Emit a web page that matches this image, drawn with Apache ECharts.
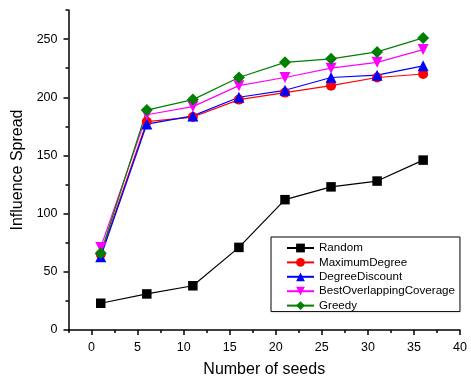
<!DOCTYPE html>
<html>
<head>
<meta charset="utf-8">
<script src="https://cdn.jsdelivr.net/npm/echarts@6/dist/echarts.min.js"></script>
<style>
  html, body { margin: 0; padding: 0; background: #fff; }
  #chart { width: 471px; height: 383px; }
</style>
</head>
<body>
<div id="chart"></div>
<script>
// Number of seeds on the x axis
const seeds = [1, 6, 11, 16, 21, 26, 31, 36];

// Influence spread per heuristic
const randomSpread = [23, 31, 38, 71, 112, 123, 128, 146];
const maxDegreeSpread = [65, 179, 183, 198, 204, 210, 217, 220];
const degreeDiscountSpread = [63, 177, 184, 200, 206, 217, 219, 227];
const bestOverlapSpread = [71, 185, 192, 210, 217, 225, 230, 241];
const greedySpread = [66, 189, 198, 217, 230, 233, 239, 251];

// Labelled tick positions
const xTicks = [0, 5, 10, 15, 20, 25, 30, 35, 40];
const yTicks = [0, 50, 100, 150, 200, 250];

const FONT = '"Liberation Sans", Arial, sans-serif';

function pairs(vals) {
  return seeds.map((s, i) => [s, vals[i]]);
}

function lineSeries(name, vals, color, symbol, size) {
  return {
    name: name,
    type: 'line',
    xAxisIndex: 0,
    yAxisIndex: 0,
    data: pairs(vals),
    symbol: symbol,
    symbolSize: size,
    color: color,
    lineStyle: { color: color, width: 1.2 },
    itemStyle: { color: color },
    emphasis: { disabled: true },
    z: 3
  };
}

const axisLine = { show: true, onZero: false, lineStyle: { color: '#000', width: 1.5 } };
const tickStyle = { color: '#000', width: 1.5 };

const option = {
  animation: false,
  backgroundColor: '#fff',
  grid: { left: 68.5, right: 11, top: 10, bottom: 50.5, containLabel: false },
  xAxis: [
    {
      type: 'value', min: -2.5, max: 40,
      axisLine: axisLine,
      splitLine: { show: false },
      axisTick: { show: true, length: 5, customValues: xTicks, lineStyle: tickStyle },
      axisLabel: { customValues: xTicks, color: '#000', fontSize: 12.5, fontFamily: FONT, margin: 11 },
      name: 'Number of seeds', nameLocation: 'middle', nameGap: 32,
      nameTextStyle: { color: '#000', fontSize: 16, fontFamily: FONT }
    },
    {
      // minor ticks every 2.5
      type: 'value', min: -2.5, max: 40, interval: 2.5, position: 'bottom',
      axisLine: { show: false, onZero: false }, splitLine: { show: false },
      axisTick: { show: true, length: 3, lineStyle: tickStyle },
      axisLabel: { show: false }
    }
  ],
  yAxis: [
    {
      type: 'value', min: 0, max: 275,
      axisLine: axisLine,
      splitLine: { show: false },
      axisTick: { show: true, length: 5, customValues: yTicks, lineStyle: tickStyle },
      axisLabel: { customValues: yTicks, color: '#000', fontSize: 12.5, fontFamily: FONT, margin: 11 },
      name: 'Influence Spread', nameLocation: 'middle', nameGap: 40, nameRotate: 90,
      nameTextStyle: { color: '#000', fontSize: 16, fontFamily: FONT }
    },
    {
      // minor ticks every 25
      type: 'value', min: 0, max: 275, interval: 25, position: 'left',
      axisLine: { show: false, onZero: false }, splitLine: { show: false },
      axisTick: { show: true, length: 3, lineStyle: tickStyle },
      axisLabel: { show: false }
    }
  ],
  legend: {
    orient: 'vertical',
    left: 271, top: 237,
    padding: [5, 5, 0, 15],
    itemWidth: 27, itemHeight: 11, itemGap: 2.4,
    borderColor: '#000', borderWidth: 1,
    textStyle: { color: '#000', fontSize: 11.6, fontFamily: FONT, lineHeight: 12 },
    data: ['Random', 'MaximumDegree', 'DegreeDiscount', 'BestOverlappingCoverage', 'Greedy']
  },
  series: [
    lineSeries('Random', randomSpread, '#000000', 'rect', 9.5),
    lineSeries('MaximumDegree', maxDegreeSpread, '#ff0000', 'circle', 10),
    lineSeries('DegreeDiscount', degreeDiscountSpread, '#0000ff', 'triangle', 11),
    lineSeries('BestOverlappingCoverage', bestOverlapSpread, '#ff00ff', 'path://M0,0 L10,0 L5,10 Z', 11),
    lineSeries('Greedy', greedySpread, '#008000', 'diamond', 12)
  ]
};

const chart = echarts.init(document.getElementById('chart'), null, { renderer: 'canvas' });
chart.setOption(option);
</script>
</body>
</html>
